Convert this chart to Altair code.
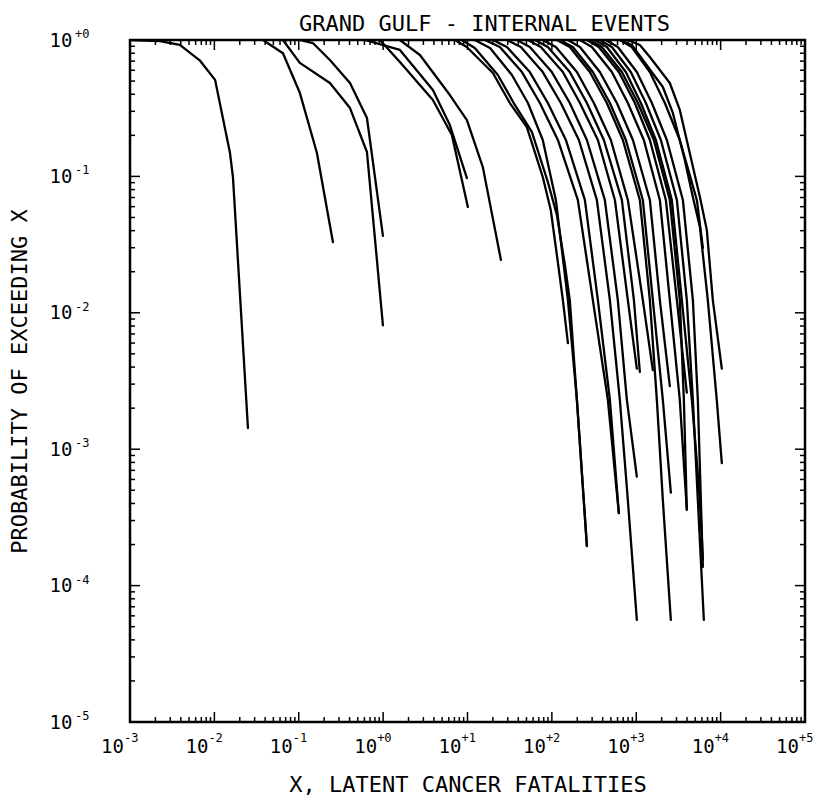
import altair as alt
import pandas as pd

TITLE = "GRAND GULF - INTERNAL EVENTS"
X_TITLE = "X, LATENT CANCER FATALITIES"
Y_TITLE = "PROBABILITY OF EXCEEDING X"
FONT = "DejaVu Sans Mono"

# ---- curves (x = fatalities, y = exceedance probability)
A_x = [0.001, 0.00226, 0.0039, 0.0067, 0.0102, 0.0153, 0.0166, 0.025]
A_y = [1.0, 0.983, 0.92, 0.71, 0.51, 0.149, 0.099, 0.00143]
B_x = [0.0377, 0.065, 0.103, 0.164, 0.254]
B_y = [1.0, 0.80, 0.41, 0.149, 0.033]
C_x = [0.103, 0.147, 0.234, 0.405, 0.643, 0.995]
C_y = [1.0, 0.95, 0.713, 0.484, 0.268, 0.0366]
D_x = [0.065, 0.103, 0.234, 0.405, 0.643, 0.995]
D_y = [1.0, 0.68, 0.484, 0.317, 0.151, 0.0081]
E_x = [0.609, 1.58, 3.89, 6.18, 9.84]
E_y = [1.0, 0.845, 0.43, 0.238, 0.097]
F_x = [0.916, 1.58, 3.89, 6.53, 10.1]
F_y = [1.0, 0.69, 0.363, 0.201, 0.0597]
G_x = [1.58, 2.73, 6.18, 9.84, 15.2, 24.9]
G_y = [1.0, 0.776, 0.395, 0.259, 0.117, 0.0244]

B1_x = [7.1, 9.8, 20, 31.8, 50.5, 78, 97, 118, 135, 155]
B1_y = [1, 0.889, 0.573, 0.345, 0.230, 0.099, 0.0567, 0.0232, 0.0124, 0.006]
B2_x = [8.6, 12.2, 22.9, 36.4, 57.9, 89.6, 114.6, 142.6, 163, 198, 260]
B2_y = [1, 0.874, 0.554, 0.334, 0.212, 0.091, 0.0522, 0.0225, 0.0124, 0.0023, 1.95e-4]
B21_x = [12.2, 18.5, 33.6, 52, 78, 111.5, 155, 198, 260]
B21_y = [1, 0.874, 0.554, 0.345, 0.185, 0.0672, 0.0124, 0.0023, 1.95e-4]
B22_x = [16.1, 24.2, 44.2, 72.1, 117.8, 203, 306, 461, 622]
B22_y = [1, 0.889, 0.582, 0.345, 0.185, 0.0672, 0.0124, 0.0023, 3.4e-4]
B3_x = [20.0, 29.3, 54.8, 89.6, 146.5, 246, 351, 487, 622]
B3_y = [1, 0.889, 0.582, 0.345, 0.185, 0.0672, 0.0124, 0.0023, 3.4e-4]
B5_x = [29.3, 42.9, 78, 127.8, 209, 341, 487, 639, 795, 1016]
B5_y = [1, 0.889, 0.582, 0.345, 0.185, 0.0672, 0.0124, 0.0023, 4.24e-4, 5.6e-5]
B6_x = [38.5, 54.8, 100, 163, 260, 424, 605, 774, 1016]
B6_y = [1, 0.889, 0.582, 0.345, 0.185, 0.0672, 0.0124, 0.0023, 6.3e-4]
B7_x = [52, 74, 135, 215, 351, 558, 795, 1016]
B7_y = [1, 0.889, 0.582, 0.345, 0.185, 0.0672, 0.0124, 0.0039]
B23_x = [63, 89.6, 163, 260, 413, 675, 938, 1103]
B23_y = [1, 0.889, 0.582, 0.345, 0.185, 0.0672, 0.0124, 0.00368]
B9_x = [78, 111.5, 198, 314.5, 500, 795, 1197, 1573]
B9_y = [1, 0.889, 0.582, 0.345, 0.185, 0.0672, 0.0124, 0.0038]
B10_x = [114.6, 163, 282, 448, 694, 1103, 1450, 1755, 2066, 2570]
B10_y = [1, 0.889, 0.582, 0.345, 0.185, 0.0672, 0.0124, 0.0023, 4.24e-4, 5.6e-5]
B11_x = [124.4, 177, 306, 487, 753, 1197, 1573, 2066, 2570]
B11_y = [1, 0.889, 0.582, 0.345, 0.185, 0.0672, 0.0124, 0.0023, 4.8e-4]
B12_x = [155, 215, 370.5, 589, 913, 1450, 1904, 2500]
B12_y = [1, 0.889, 0.582, 0.345, 0.185, 0.0672, 0.0124, 0.0029]
B13_x = [215, 298, 514, 795, 1230, 1904, 2500, 3282, 3975]
B13_y = [1, 0.889, 0.582, 0.345, 0.185, 0.0672, 0.0124, 0.0023, 3.6e-4]
B24_x = [282, 391, 675, 1045, 1616, 2500, 3282, 3667, 3975]
B24_y = [1, 0.889, 0.582, 0.345, 0.185, 0.0672, 0.0124, 0.0023, 3.6e-4]
B14_x = [260, 360, 622, 963, 1450, 2243, 3030, 3975]
B14_y = [1, 0.889, 0.582, 0.345, 0.185, 0.0672, 0.0124, 0.0026]
B17_x = [323, 448, 753, 1134, 1708, 2640, 3470, 4560, 5680, 6160]
B17_y = [1, 0.889, 0.582, 0.345, 0.185, 0.0672, 0.0124, 0.0023, 4.24e-4, 1.55e-4]
B15_x = [370.5, 514, 862, 1300, 1957, 3030, 3975, 4690, 5370, 6325]
B15_y = [1, 0.889, 0.582, 0.345, 0.185, 0.0672, 0.0124, 0.0023, 4.24e-4, 5.6e-5]
B16_x = [436, 605, 1016, 1531, 2305, 3570, 4690, 5370, 6160]
B16_y = [1, 0.889, 0.582, 0.345, 0.185, 0.0672, 0.0124, 0.0023, 1.37e-4]
B18_x = [639, 885, 1450, 2183, 3282, 5225, 6160]
B18_y = [1, 0.889, 0.582, 0.345, 0.185, 0.0672, 0.0299]
B19_x = [639, 885, 1197, 2066, 2715, 3760, 4690, 5680, 7050, 9000, 10330]
B19_y = [1, 0.919, 0.714, 0.452, 0.292, 0.132, 0.0707, 0.0426, 0.0124, 0.0023, 7.9e-4]
B20_x = [795, 1103, 1450, 2500, 3282, 5680, 6860, 8085, 10330]
B20_y = [1, 0.919, 0.75, 0.484, 0.307, 0.0707, 0.0405, 0.0124, 0.0039]

CURVES = [
    ("A", A_x, A_y), ("B", B_x, B_y), ("C", C_x, C_y), ("D", D_x, D_y),
    ("E", E_x, E_y), ("F", F_x, F_y), ("G", G_x, G_y),
    ("B1", B1_x, B1_y), ("B2", B2_x, B2_y), ("B21", B21_x, B21_y),
    ("B22", B22_x, B22_y), ("B3", B3_x, B3_y), ("B5", B5_x, B5_y),
    ("B6", B6_x, B6_y), ("B7", B7_x, B7_y), ("B23", B23_x, B23_y),
    ("B9", B9_x, B9_y), ("B10", B10_x, B10_y), ("B11", B11_x, B11_y),
    ("B12", B12_x, B12_y), ("B13", B13_x, B13_y), ("B24", B24_x, B24_y),
    ("B14", B14_x, B14_y), ("B17", B17_x, B17_y), ("B15", B15_x, B15_y),
    ("B16", B16_x, B16_y), ("B18", B18_x, B18_y), ("B19", B19_x, B19_y),
    ("B20", B20_x, B20_y),
]

# ---- tick positions and tick-label exponents
X_MAJOR = [1e-3, 1e-2, 1e-1, 1.0, 1e1, 1e2, 1e3, 1e4, 1e5]
X_EXP = ["-3", "-2", "-1", "+0", "+1", "+2", "+3", "+4", "+5"]
Y_MAJOR = [1e-5, 1e-4, 1e-3, 1e-2, 1e-1, 1.0]
Y_EXP = ["-5", "-4", "-3", "-2", "-1", "+0"]
X_MINOR = [k * 10.0 ** d for d in range(-3, 5) for k in range(2, 10)]
Y_MINOR = [k * 10.0 ** d for d in range(-5, 0) for k in range(2, 10)]

rows = []
for name, xs_, ys_ in CURVES:
    for xv, yv in zip(xs_, ys_):
        rows.append({"curve": name, "x": xv, "y": yv})
df = pd.DataFrame(rows)

W, H = 675, 682
MAJ, MIN = 10, 5

xscale = alt.Scale(type="log", domain=[1e-3, 1e5], nice=False)
yscale = alt.Scale(type="log", domain=[1e-5, 1.0], nice=False)

xaxis = alt.Axis(values=X_MAJOR, labelExpr="'10'", ticks=False, domain=False,
                 grid=False, labelFont=FONT, labelFontSize=19, labelColor="black",
                 labelPadding=15, labelOffset=-18, labelFlush=False, labelOverlap=False,
                 title=X_TITLE, titleFont=FONT, titleFontSize=22,
                 titleFontWeight="normal", titleColor="black", titlePadding=18)
yaxis = alt.Axis(values=Y_MAJOR, labelExpr="'10'", ticks=False, domain=False,
                 grid=False, labelFont=FONT, labelFontSize=19, labelColor="black",
                 labelPadding=58, labelFlush=False, labelOverlap=False,
                 title=Y_TITLE, titleFont=FONT, titleFontSize=22,
                 titleFontWeight="normal", titleColor="black", titlePadding=18)

lines = alt.Chart(df).mark_line(
    color="black", strokeWidth=2.3, strokeJoin="round", strokeCap="round", clip=True
).encode(
    x=alt.X("x:Q", scale=xscale, axis=xaxis),
    y=alt.Y("y:Q", scale=yscale, axis=yaxis),
    detail="curve:N",
)

xmaj = pd.DataFrame({"x": X_MAJOR, "e": X_EXP})
xmin = pd.DataFrame({"x": X_MINOR})
ymaj = pd.DataFrame({"y": Y_MAJOR, "e": Y_EXP})
ymin = pd.DataFrame({"y": Y_MINOR})


def xticks(data, y0, y1):
    return alt.Chart(data).mark_rule(color="black", strokeWidth=1.5).encode(
        x=alt.X("x:Q", scale=xscale, axis=xaxis),
        y=alt.value(y0), y2=alt.value(y1))


def yticks(data, x0, x1):
    return alt.Chart(data).mark_rule(color="black", strokeWidth=1.5).encode(
        y=alt.Y("y:Q", scale=yscale, axis=yaxis),
        x=alt.value(x0), x2=alt.value(x1))


ticks = [
    xticks(xmaj, H, H - MAJ), xticks(xmin, H, H - MIN),
    xticks(xmaj, 0, MAJ), xticks(xmin, 0, MIN),
    yticks(ymaj, 0, MAJ), yticks(ymin, 0, MIN),
    yticks(ymaj, W, W - MAJ), yticks(ymin, W, W - MIN),
]

# exponents of the tick labels, raised and smaller, as in the reference
x_exp = alt.Chart(xmaj).mark_text(
    font=FONT, fontSize=12, align="left", baseline="alphabetic", dx=-6, color="black"
).encode(x=alt.X("x:Q", scale=xscale, axis=xaxis), y=alt.value(H + 20), text="e:N")
y_exp = alt.Chart(ymaj).mark_text(
    font=FONT, fontSize=12, align="left", baseline="alphabetic", dy=-2, color="black"
).encode(y=alt.Y("y:Q", scale=yscale, axis=yaxis), x=alt.value(-55), text="e:N")

chart = alt.layer(lines, *ticks, x_exp, y_exp).properties(
    width=W, height=H,
    title=alt.TitleParams(TITLE, font=FONT, fontSize=22, fontWeight="normal",
                          color="black", anchor="middle", frame="group",
                          offset=10, dx=17, dy=18),
    autosize=alt.AutoSizeParams(type="none"),
    padding={"left": 122, "top": 32, "right": 9, "bottom": 78},
).configure(background="white").configure_view(stroke="black", strokeWidth=2.5)

chart.save("out.html", embed_options={"renderer": "svg", "actions": False})
